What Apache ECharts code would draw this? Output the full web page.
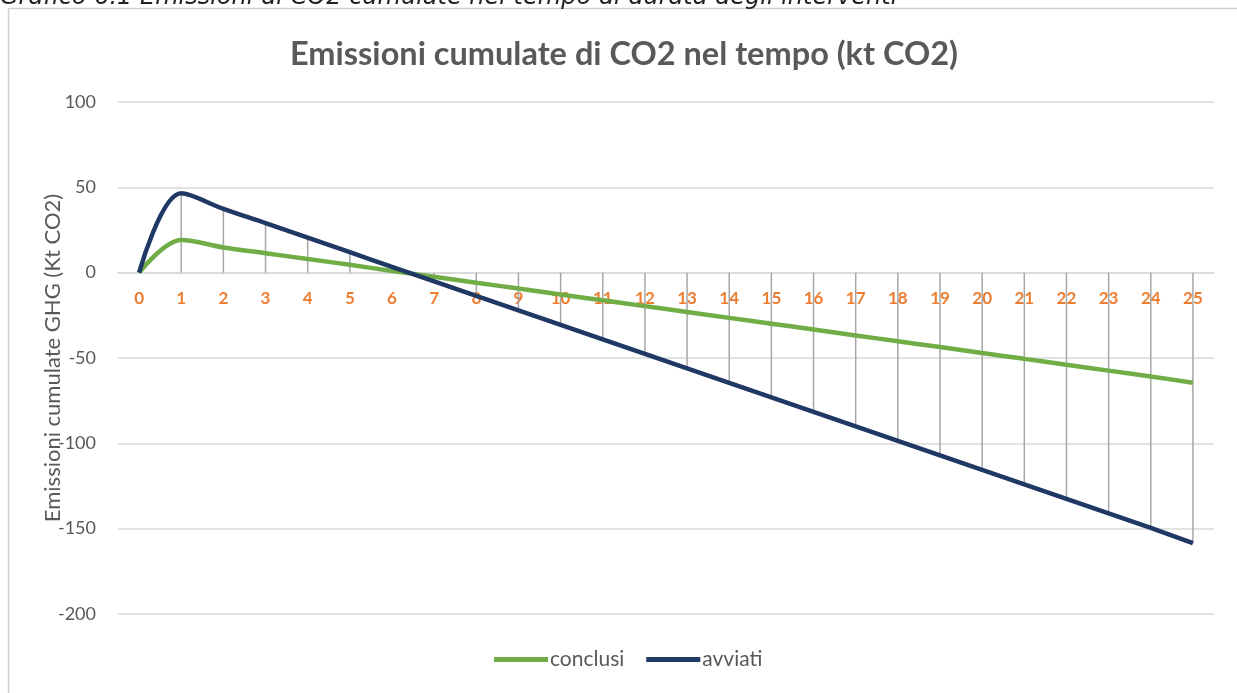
<!DOCTYPE html>
<html>
<head>
<meta charset="utf-8">
<script src="https://cdn.jsdelivr.net/npm/echarts@6/dist/echarts.min.js"></script>
<style>
  html, body { margin: 0; padding: 0; background: #fff; }
  #chart { width: 1237px; height: 693px; }
</style>
</head>
<body>
<div id="chart"></div>
<script>
  // anni di durata degli interventi
  var anni = ["0","1","2","3","4","5","6","7","8","9","10","11","12","13","14","15","16","17","18","19","20","21","22","23","24","25"];
  // emissioni cumulate (kt CO2)
  var conclusi = [0, 19.2, 14.8, 11.4, 8, 4.6, 1, -2.4, -5.9, -9.3, -12.8, -16.2, -19.6, -23, -26.5, -29.9, -33.3, -36.8, -40.2, -43.6, -47.1, -50.5, -54, -57.4, -60.8, -64.5];
  var avviati = [0, 46.5, 37.4, 29, 20.5, 12, 3.4, -5.1, -13.6, -22.1, -30.6, -39.1, -47.6, -56.1, -64.6, -73.1, -81.6, -90.1, -98.6, -107.1, -115.6, -124.1, -132.6, -141.1, -149.6, -158.5];
  var yTicks = {min: -200, max: 100, interval: 50};

  var chartDom = echarts.init(document.getElementById("chart"));
  var gray = "#595959", gridColor = "#d9d9d9";

  var option = {
    backgroundColor: "#fff",
    animation: false,
    textStyle: {fontFamily: "Lato"},
    title: {
      text: "Emissioni cumulate di CO2 nel tempo (kt CO2)",
      left: 285,
      top: 33,
      textStyle: {fontFamily: "Lato", fontWeight: "bold", fontSize: 32.5, color: gray}
    },
    graphic: [
      {
        type: "rect", silent: true,
        shape: {x: 8.5, y: 8.5, width: 1400, height: 900},
        style: {fill: null, stroke: "#d0d0d0", lineWidth: 1.5}
      },
      {
        type: "text", silent: true, left: 0, top: -14,
        style: {
          text: "Grafico 6.1 Emissioni di CO2 cumulate nel tempo di durata degli interventi",
          font: "italic 24px 'DejaVu Sans'", fill: "#222"
        }
      }
    ],
    legend: {
      bottom: 18,
      left: 489,
      itemWidth: 54,
      itemHeight: 5,
      itemGap: 22,
      icon: "rect",
      textStyle: {color: gray, fontSize: 21, fontFamily: "Lato", padding: [0, 0, 0, -3]},
      data: ["conclusi", "avviati"]
    },
    grid: {left: 118, right: 23, top: 102, bottom: 79},
    xAxis: {
      type: "category",
      data: anni,
      // asse spostato sullo zero
      offset: -341,
      axisLine: {onZero: false, lineStyle: {color: gridColor, width: 1.5}},
      axisTick: {show: false},
      axisLabel: {color: "#ED7D31", fontWeight: "bold", fontSize: 17, fontFamily: "Lato", margin: 17, interval: 0},
      splitLine: {show: false}
    },
    yAxis: {
      type: "value",
      min: yTicks.min, max: yTicks.max, interval: yTicks.interval,
      name: "Emissioni cumulate GHG (Kt CO2)",
      nameLocation: "middle",
      nameGap: 54,
      nameMoveOverlap: false,
      nameTextStyle: {color: gray, fontSize: 22, fontFamily: "Lato"},
      axisLine: {show: false},
      axisTick: {show: false},
      axisLabel: {color: gray, fontSize: 18, fontFamily: "Lato", margin: 22},
      splitLine: {lineStyle: {color: gridColor, width: 1.5}}
    },
    series: [
      {
        // linee di riferimento verticali
        name: "drop",
        type: "bar",
        data: avviati,
        barWidth: 1.5,
        silent: true,
        itemStyle: {color: "#a6a6a6"},
        z: 1
      },
      {
        name: "conclusi",
        type: "line",
        data: conclusi,
        smooth: 0.35,
        showSymbol: false,
        lineStyle: {color: "#70AD47", width: 4.5},
        itemStyle: {color: "#70AD47"},
        z: 3
      },
      {
        name: "avviati",
        type: "line",
        data: avviati,
        smooth: 0.35,
        showSymbol: false,
        lineStyle: {color: "#203864", width: 4.5},
        itemStyle: {color: "#203864"},
        z: 4
      }
    ]
  };
  chartDom.setOption(option);
</script>
</body>
</html>
